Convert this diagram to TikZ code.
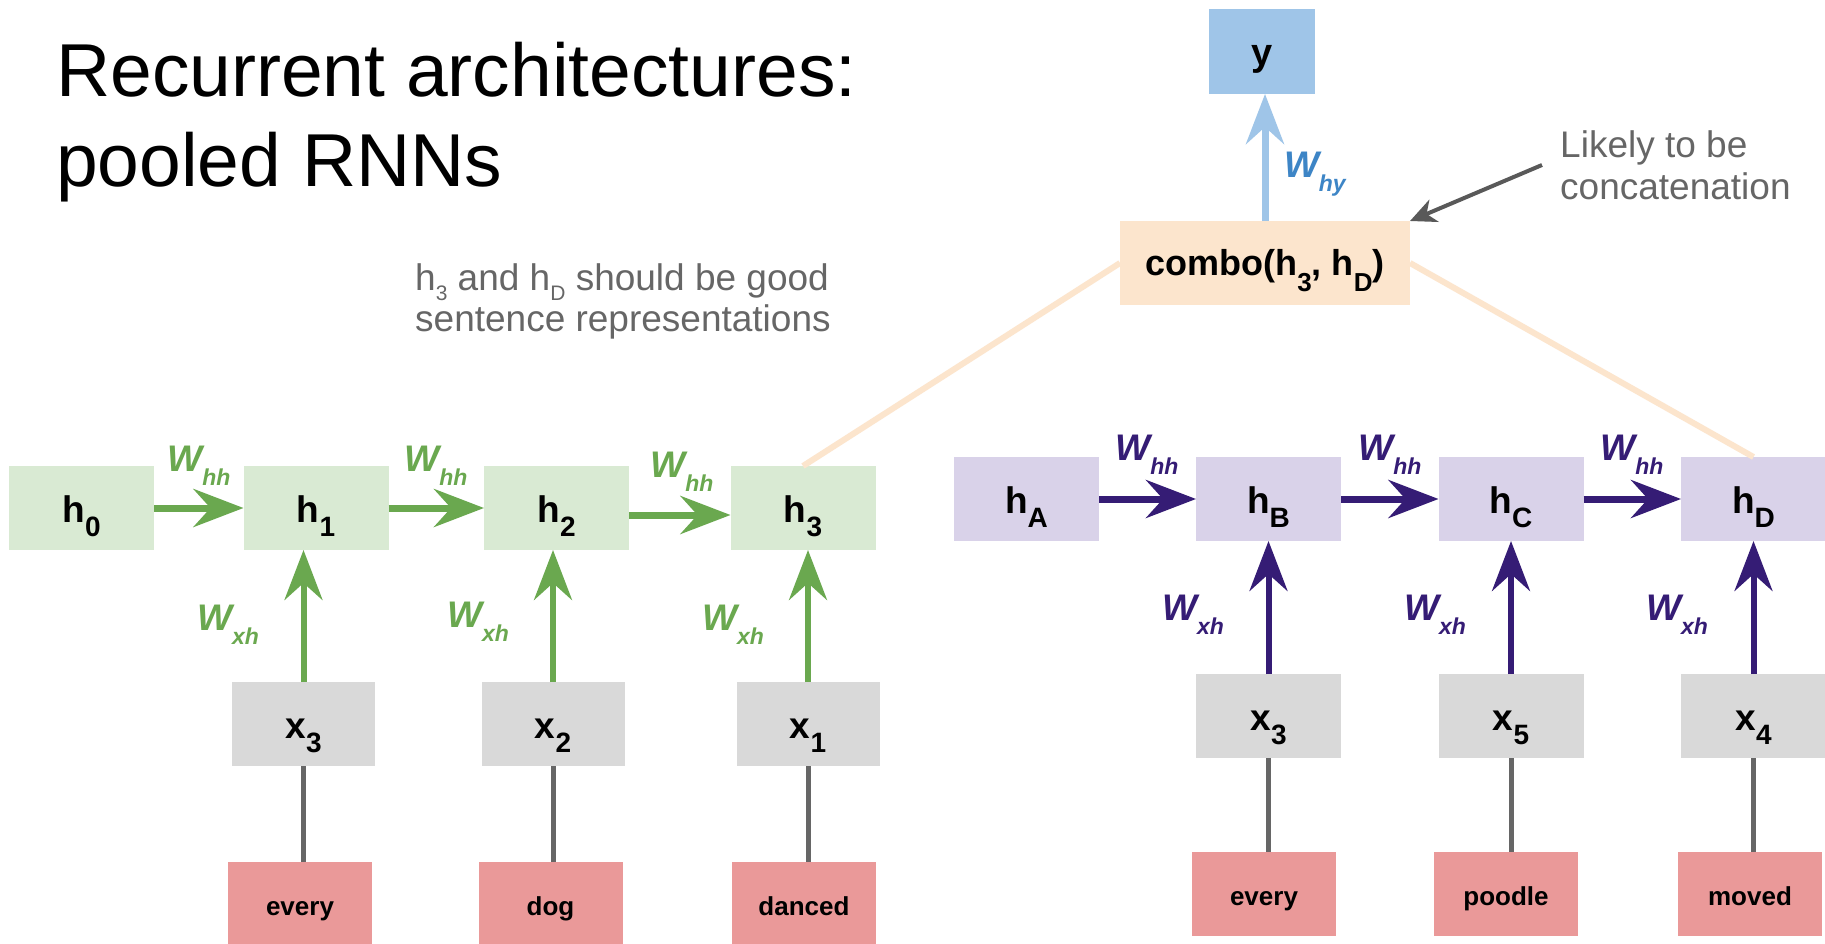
\documentclass[tikz,border=0pt]{standalone}
\usepackage{fontspec}
\setmainfont{Liberation Sans}
\usetikzlibrary{arrows.meta}

\definecolor{hgreen}{HTML}{D9EAD3}
\definecolor{agreen}{HTML}{6AA84F}
\definecolor{hpurple}{HTML}{D9D2E9}
\definecolor{apurple}{HTML}{351C75}
\definecolor{xgray}{HTML}{D9D9D9}
\definecolor{wordred}{HTML}{EA9999}
\definecolor{linegray}{HTML}{666666}
\definecolor{ybox}{HTML}{9FC5E8}
\definecolor{yblue}{HTML}{3D85C6}
\definecolor{combofill}{HTML}{FCE5CD}
\definecolor{notegray}{HTML}{666666}
\definecolor{pointgray}{HTML}{595959}

% lowered subscript: drop, size, text
\newcommand{\lowsub}[3]{\raisebox{-#1pt}{\fontsize{#2}{#2}\selectfont #3}}
% weight label W with a subscript
\newcommand{\wlab}[1]{{\fontsize{37}{37}\selectfont\bfseries\itshape W\lowsub{14}{23}{#1}}}
% state / input label with a subscript
\newcommand{\slab}[2]{#1\lowsub{14}{28}{#2}}

\begin{document}
\begin{tikzpicture}[x=1pt,y=-1pt,
  box/.style={rectangle, inner sep=0pt, outer sep=0pt,
    minimum width=145pt, minimum height=84pt,
    text height=28pt, text depth=0pt,
    font=\fontsize{37}{37}\selectfont\bfseries},
  hg/.style={box, fill=hgreen},
  hp/.style={box, fill=hpurple},
  xin/.style={box, fill=xgray, minimum width=143pt},
  word/.style={box, fill=wordred, minimum width=144pt,
    text height=22pt, font=\fontsize{26}{26}\selectfont\bfseries},
  tip/.style={-{Stealth[length=50pt,width=38pt,inset=17pt]}},
  garr/.style={tip, draw=agreen, line width=7pt},
  parr/.style={tip, draw=apurple, line width=7pt},
  feed/.style={draw=linegray, line width=5pt},
  pool/.style={draw=combofill, line width=6pt},
  wl/.style={inner sep=0pt, outer sep=0pt},
  note/.style={inner sep=0pt, text=notegray, font=\fontsize{37}{37}\selectfont},
]
\useasboundingbox (0,0) rectangle (1825,944);
\fill[white] (0,0) rectangle (1825,944);

% title
\node[inner sep=0pt, anchor=base west, font=\fontsize{75}{75}\selectfont] (t1) at (56,97) {Recurrent architectures:};
\node[inner sep=0pt, anchor=base west, font=\fontsize{75}{75}\selectfont] (t2) at (56,187) {pooled RNNs};

% remark on the pooled states
\node[note, anchor=base west] (n1) at (415,290) {h\lowsub{10}{21}{3} and h\lowsub{10}{21}{D} should be good};
\node[note, anchor=base west] (n2) at (415,331) {sentence representations};

% output and combination
\node[box, fill=ybox, minimum width=106pt, minimum height=85pt, font=\fontsize{38}{38}\selectfont\bfseries] (y) at (1262,51.5) {y};
\node[box, fill=combofill, minimum width=290pt, text height=24pt, font=\fontsize{36}{36}\selectfont\bfseries] (combo) at (1265,263)
  {combo(h\lowsub{16}{26}{3}, h\lowsub{16}{26}{D})};

\node[note, anchor=base west] (c1) at (1560,158) {Likely to be};
\node[note, anchor=base west] (c2) at (1560,200) {concatenation};
\coordinate (lk) at (1542,165);
\draw[draw=pointgray, line width=4pt, -{Stealth[length=26pt,width=24pt,inset=8pt]}] (lk) -- (combo.north east);

% left RNN
\node[hg] (h0) at (81.5,508) {\slab{h}{0}};
\node[hg] (h1) at (316,508) {\slab{h}{1}};
\node[hg] (h2) at (556.5,508) {\slab{h}{2}};
\node[hg] (h3) at (803,508) {\slab{h}{3}};

\node[xin] (lx3) at (303.5,724) {\slab{x}{3}};
\node[xin] (lx2) at (553,724) {\slab{x}{2}};
\node[xin] (lx1) at (808,724) {\slab{x}{1}};

\node[word] (lw1) at (300,904) {every};
\node[word] (lw2) at (550.5,904) {dog};
\node[word] (lw3) at (804,904) {danced};

% right RNN
\node[hp] (hA) at (1026.5,499) {\slab{h}{A}};
\node[hp] (hB) at (1268.5,499) {\slab{h}{B}};
\node[hp] (hC) at (1511,499) {\slab{h}{C}};
\node[hp] (hD) at (1753.5,499) {\slab{h}{D}};

\node[xin, minimum width=145pt] (rx3) at (1268.5,716) {\slab{x}{3}};
\node[xin, minimum width=145pt] (rx5) at (1511,716) {\slab{x}{5}};
\node[xin, minimum width=145pt] (rx4) at (1753.5,716) {\slab{x}{4}};

\node[word] (rw1) at (1264,894) {every};
\node[word] (rw2) at (1506,894) {poodle};
\node[word] (rw3) at (1750,894) {moved};

% pooling lines into the combination
\draw[pool] (combo.west) -- (h3.north);
\draw[pool] (combo.east) -- (hD.north);

% output weight
\draw[tip, draw=ybox, line width=7pt] (combo.north) -- (combo.north |- y.south);
\node[wl, anchor=base west, text=yblue] (why) at (1284,178) {\wlab{hy}};

% left recurrences
\draw[garr] (h0.east) -- (h1.west);
\draw[garr] (h1.east) -- (h2.west);
\draw[garr] ([yshift=-7pt]h2.east) -- ([yshift=-7pt]h3.west);
\node[wl, anchor=base, text=agreen] (lhh1) at (199,471) {\wlab{hh}};
\node[wl, anchor=base, text=agreen] (lhh2) at (436,471) {\wlab{hh}};
\node[wl, anchor=base, text=agreen] (lhh3) at (682,477) {\wlab{hh}};

\draw[garr, line width=6pt] (lx3.north) -- (lx3.north |- h1.south);
\draw[garr, line width=6pt] (lx2.north) -- (lx2.north |- h2.south);
\draw[garr, line width=6pt] (lx1.north) -- (lx1.north |- h3.south);
\node[wl, anchor=base east, text=agreen] (lxh1) at (259,630) {\wlab{xh}};
\node[wl, anchor=base east, text=agreen] (lxh2) at (509,627) {\wlab{xh}};
\node[wl, anchor=base east, text=agreen] (lxh3) at (764,630) {\wlab{xh}};

\draw[feed] (lx3.south) -- (lx3.south |- lw1.north);
\draw[feed] (lx2.south) -- (lx2.south |- lw2.north);
\draw[feed] (lx1.south) -- (lx1.south |- lw3.north);

% right recurrences
\draw[parr] (hA.east) -- (hB.west);
\draw[parr] (hB.east) -- (hC.west);
\draw[parr] (hC.east) -- (hD.west);
\node[wl, anchor=base, text=apurple] (rhh1) at (1147,460) {\wlab{hh}};
\node[wl, anchor=base, text=apurple] (rhh2) at (1390,460) {\wlab{hh}};
\node[wl, anchor=base, text=apurple] (rhh3) at (1632,460) {\wlab{hh}};

\draw[parr, line width=6pt] (rx3.north) -- (rx3.north |- hB.south);
\draw[parr, line width=6pt] (rx5.north) -- (rx5.north |- hC.south);
\draw[parr, line width=6pt] (rx4.north) -- (rx4.north |- hD.south);
\node[wl, anchor=base east, text=apurple] (rxh1) at (1224,620) {\wlab{xh}};
\node[wl, anchor=base east, text=apurple] (rxh2) at (1466,620) {\wlab{xh}};
\node[wl, anchor=base east, text=apurple] (rxh3) at (1708,620) {\wlab{xh}};

\draw[feed] (rx3.south) -- (rx3.south |- rw1.north);
\draw[feed] (rx5.south) -- (rx5.south |- rw2.north);
\draw[feed] (rx4.south) -- (rx4.south |- rw3.north);
\end{tikzpicture}
\end{document}
